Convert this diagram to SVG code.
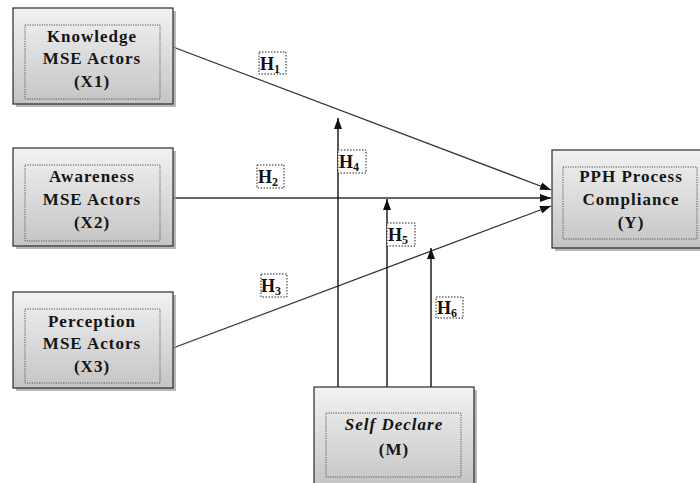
<svg xmlns="http://www.w3.org/2000/svg" width="700" height="483" viewBox="0 0 700 483">
<style>
.box{fill:url(#g);stroke:#2b2b2b;stroke-width:1.2}
.sh{fill:#9a9a9a;opacity:0.7}
.inner{fill:none;stroke:#555;stroke-width:1;stroke-dasharray:1.2 1.2}
.t{font-family:"Liberation Serif","Times New Roman",serif;font-weight:bold;font-size:17px;fill:#141414;text-anchor:middle;letter-spacing:1px}
.it{font-style:italic}
.lb{fill:#fff;stroke:#222;stroke-width:1;stroke-dasharray:1.5 1.5}
.h{font-family:"Liberation Serif","Times New Roman",serif;font-weight:bold;font-size:18px;fill:#111}
.sub{font-size:12px}
.ln{fill:none;stroke:#333;stroke-width:1.3}
.vl{fill:none;stroke:#111;stroke-width:1.4}
</style>
<defs>
<linearGradient id="g" x1="0" y1="0" x2="0" y2="1">
<stop offset="0" stop-color="#f2f2f2"/>
<stop offset="1" stop-color="#c4c4c4"/>
</linearGradient>
<marker id="a" markerUnits="userSpaceOnUse" markerWidth="12" markerHeight="10" refX="11" refY="4" orient="auto">
<path d="M0,0 L11,4 L0,8 Z" fill="#111"/>
</marker>
</defs>
<rect width="700" height="483" fill="#fff"/>

<g id="connectors">
<line class="ln" x1="173" y1="47" x2="551" y2="190" marker-end="url(#a)"/>
<line class="ln" x1="173" y1="198" x2="551" y2="198" marker-end="url(#a)"/>
<line class="ln" x1="173" y1="348" x2="551" y2="206" marker-end="url(#a)"/>
<line class="vl" x1="338" y1="387" x2="338" y2="118" marker-end="url(#a)"/>
<line class="vl" x1="387" y1="387" x2="387" y2="199" marker-end="url(#a)"/>
<line class="vl" x1="431" y1="387" x2="431" y2="248" marker-end="url(#a)"/>
</g>

<g id="labels">
<g id="H1"><rect class="lb" x="259" y="52" width="27" height="22"/><text class="h" x="260" y="70">H<tspan class="sub" dy="3">1</tspan></text></g>
<g id="H2"><rect class="lb" x="257" y="165" width="27" height="23"/><text class="h" x="258" y="183">H<tspan class="sub" dy="3">2</tspan></text></g>
<g id="H3"><rect class="lb" x="261" y="274" width="26" height="23"/><text class="h" x="261" y="292">H<tspan class="sub" dy="3">3</tspan></text></g>
<g id="H4"><rect class="lb" x="338" y="150" width="28" height="23"/><text class="h" x="339" y="168">H<tspan class="sub" dy="3">4</tspan></text></g>
<g id="H5"><rect class="lb" x="387" y="223" width="28" height="23"/><text class="h" x="388" y="241">H<tspan class="sub" dy="3">5</tspan></text></g>
<g id="H6"><rect class="lb" x="436" y="297" width="27" height="21"/><text class="h" x="437" y="314">H<tspan class="sub" dy="3">6</tspan></text></g>
</g>

<g id="X1">
<rect class="sh" x="16" y="11" width="160" height="96"/>
<rect class="box" x="13" y="8" width="160" height="96"/>
<rect class="inner" x="25" y="25" width="135" height="74"/>
<text class="t" x="92" y="42">Knowledge</text>
<text class="t" x="92" y="64">MSE Actors</text>
<text class="t" x="92" y="87">(X1)</text>
</g>

<g id="X2">
<rect class="sh" x="16" y="151" width="160" height="98"/>
<rect class="box" x="13" y="148" width="160" height="98"/>
<rect class="inner" x="25" y="165" width="135" height="76"/>
<text class="t" x="92" y="182">Awareness</text>
<text class="t" x="92" y="205">MSE Actors</text>
<text class="t" x="92" y="228">(X2)</text>
</g>

<g id="X3">
<rect class="sh" x="16" y="295" width="160" height="96"/>
<rect class="box" x="13" y="292" width="160" height="96"/>
<rect class="inner" x="25" y="309" width="135" height="74"/>
<text class="t" x="92" y="327">Perception</text>
<text class="t" x="92" y="349">MSE Actors</text>
<text class="t" x="92" y="372">(X3)</text>
</g>

<g id="Y">
<rect class="sh" x="555" y="153" width="160" height="98"/>
<rect class="box" x="552" y="150" width="160" height="98"/>
<rect class="inner" x="563" y="167" width="134" height="72"/>
<text class="t" x="631" y="182">PPH Process</text>
<text class="t" x="631" y="205">Compliance</text>
<text class="t" x="631" y="228">(Y)</text>
</g>

<g id="M">
<rect class="sh" x="317" y="390" width="160" height="100"/>
<rect class="box" x="314" y="387" width="160" height="100"/>
<rect class="inner" x="326" y="413" width="135" height="64"/>
<text class="t it" x="394" y="430">Self Declare</text>
<text class="t" x="394" y="455">(M)</text>
</g>
</svg>
